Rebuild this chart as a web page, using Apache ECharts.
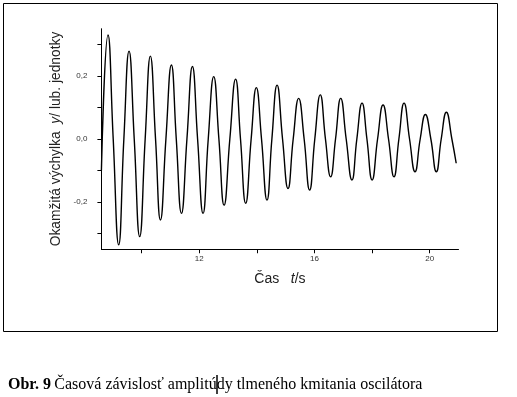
<!DOCTYPE html>
<html>
<head>
<meta charset="utf-8">
<script src="https://cdn.jsdelivr.net/npm/echarts@6/dist/echarts.min.js"></script>
<style>
html,body{margin:0;padding:0;background:#fff;}
#c{width:517px;height:397px;}
</style>
</head>
<body>
<div id="c"></div>
<script>
// time values (s): extremes and zero crossings
const timeValues = [
  8.60, 8.83, 9.01, 9.20, 9.38, 9.56, 9.74, 9.93, 10.12, 10.30, 10.48, 10.65, 10.84, 11.03, 11.20, 11.38,
  11.57, 11.76, 11.94, 12.13, 12.31, 12.50, 12.68, 12.86, 13.06, 13.26, 13.43, 13.61, 13.80, 13.98, 14.16,
  14.35, 14.52, 14.70, 14.89, 15.08, 15.26, 15.45, 15.64, 15.83, 16.01, 16.20, 16.38, 16.56, 16.73, 16.91,
  17.10, 17.30, 17.47, 17.65, 17.82, 18.00, 18.19, 18.38, 18.57, 18.76, 18.93, 19.11, 19.30, 19.49, 19.67,
  19.85, 20.04, 20.23, 20.40, 20.58, 20.77, 20.92
];
// displacement values (arb. units)
const displacement = [
  -0.10, 0.330, 0.0, -0.336, 0.0, 0.279, 0.0, -0.310, 0.0, 0.263, 0.0, -0.257, 0.0, 0.235, 0.0, -0.236,
  0.0, 0.230, 0.0, -0.236, 0.0, 0.198, 0.0, -0.210, 0.0, 0.190, 0.0, -0.204, 0.0, 0.163, 0.0,
  -0.194, 0.0, 0.171, 0.0, -0.157, 0.0, 0.129, 0.0, -0.162, 0.0, 0.140, 0.0, -0.120, 0.0, 0.129,
  0.0, -0.130, 0.0, 0.114, 0.0, -0.130, 0.0, 0.108, 0.0, -0.120, 0.0, 0.114, 0.0, -0.104, 0.0,
  0.078, 0.0, -0.104, 0.0, 0.085, 0.0, -0.077
];
const xTickValues = [10, 12, 14, 16, 18, 20];
const xLabelValues = [12, 16, 20];
const yTickValues = [-0.3, -0.2, -0.1, 0, 0.1, 0.2, 0.3];
const yLabelValues = [-0.2, 0, 0.2];

const chart = echarts.init(document.getElementById('c'), null, {renderer: 'canvas'});
const seriesData = timeValues.map((t, i) => [t, displacement[i]]);

chart.setOption({
  animation: false,
  backgroundColor: '#fff',
  grid: {left: 101.4, right: 58.5, top: 28.75, bottom: 147.75, containLabel: false},
  xAxis: {
    type: 'value', min: 8.6, max: 21,
    name: '{a|Čas   }{b|t}{a|/s}',
    nameLocation: 'middle', nameGap: 23,
    nameTextStyle: {
      rich: {
        a: {fontFamily: 'Liberation Sans', fontSize: 14, color: '#222'},
        b: {fontFamily: 'Liberation Sans', fontSize: 14, color: '#222', fontStyle: 'italic'}
      }
    },
    axisLine: {show: true, onZero: false, lineStyle: {color: '#000', width: 1}},
    axisTick: {show: true, inside: false, length: 4, lineStyle: {color: '#000'}, customValues: xTickValues},
    axisLabel: {show: true, margin: 6, fontFamily: 'Liberation Sans', fontSize: 8, color: '#333', customValues: xLabelValues,
      formatter: v => String(v)},
    splitLine: {show: false}
  },
  yAxis: {
    type: 'value', min: -0.35, max: 0.35,
    name: '{a|Okamžitá výchylka  }{b|y}{a|/ lub. jednotky}',
    nameLocation: 'middle', nameGap: 37, nameRotate: 90,
    nameTextStyle: {
      rich: {
        a: {fontFamily: 'Liberation Sans', fontSize: 13.8, color: '#222'},
        b: {fontFamily: 'Liberation Sans', fontSize: 13.8, color: '#222', fontStyle: 'italic'}
      }
    },
    axisLine: {show: true, onZero: false, lineStyle: {color: '#000', width: 1}},
    axisTick: {show: true, inside: false, length: 4, lineStyle: {color: '#000'}, customValues: yTickValues},
    axisLabel: {show: true, margin: 14, fontFamily: 'Liberation Sans', fontSize: 8, color: '#333', customValues: yLabelValues,
      formatter: v => (Math.abs(v) < 1e-9 ? 0 : v).toFixed(1).replace('.', ',')},
    splitLine: {show: false}
  },
  series: [{
    type: 'line',
    data: seriesData,
    smooth: 0.5,
    showSymbol: false,
    lineStyle: {color: '#000', width: 1.4},
    clip: true
  }],
  graphic: [
    {type: 'rect', shape: {x: 3.5, y: 3.5, width: 494, height: 328}, style: {fill: 'none', stroke: '#000', lineWidth: 1}, silent: true},
    {type: 'text', left: 8, top: 377, style: {
      text: '{b|Obr. 9} {a|Časová závislosť amplitúdy tlmeného kmitania oscilátora}',
      rich: {
        b: {fontFamily: 'Liberation Serif', fontSize: 16, fontWeight: 'bold', fill: '#000'},
        a: {fontFamily: 'Liberation Serif', fontSize: 16, fill: '#000'}
      }
    }},
    {type: 'line', shape: {x1: 217, y1: 375, x2: 217, y2: 394}, style: {stroke: '#000', lineWidth: 1.5}, silent: true}
  ]
});
</script>
</body>
</html>
